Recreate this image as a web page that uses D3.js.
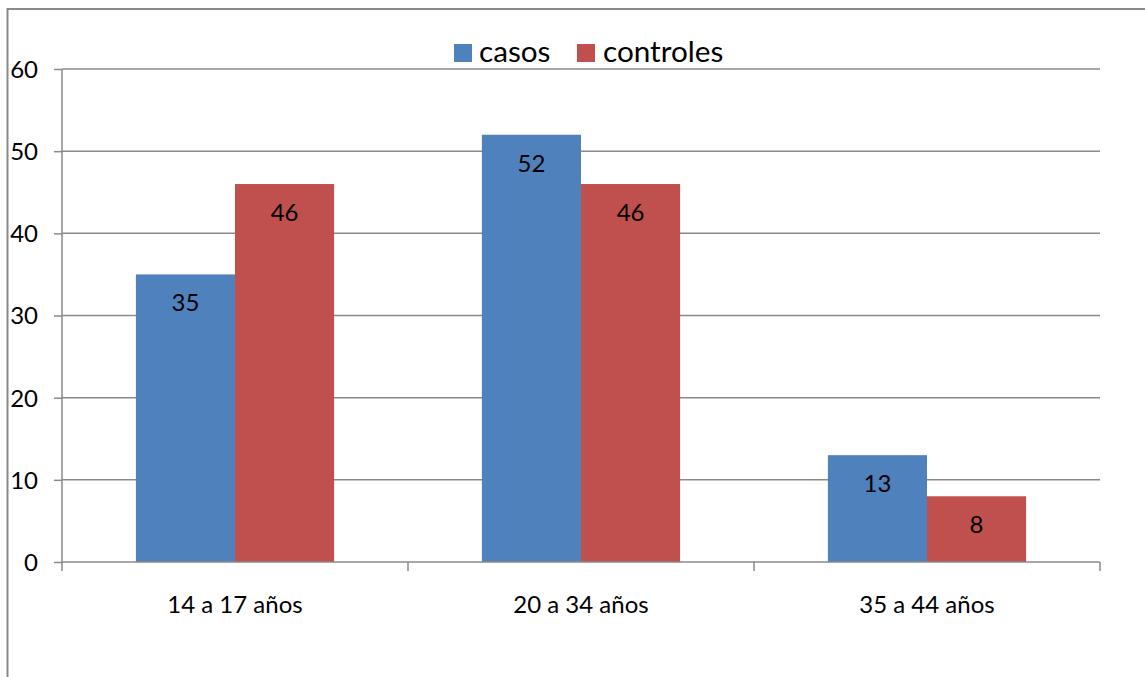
<!DOCTYPE html>
<html>
<head>
<meta charset="utf-8">
<script src="https://cdn.jsdelivr.net/npm/d3@7"></script>
<style>
  html, body { margin: 0; padding: 0; background: #fff; }
  svg { display: block; }
  text { font-family: Lato, "Open Sans", sans-serif; fill: #000; }
</style>
</head>
<body>
<svg id="chart" width="1145" height="677"></svg>
<script>
// Age groups and the two series compared in each group
const categories = ["14 a 17 años", "20 a 34 años", "35 a 44 años"];
const seriesNames = ["casos", "controles"];
const casos = [35, 52, 13];
const controles = [46, 46, 8];
const yTicks = [0, 10, 20, 30, 40, 50, 60];
const colors = ["#4F81BD", "#C0504D"];

const svg = d3.select("#chart");
const W = 1145, H = 677;
const plot = { left: 62, right: 1100, top: 69, bottom: 562 };
const gridColor = "#8a8a8a";

// Outer chart frame (runs off the right and bottom edges)
svg.append("rect")
  .attr("x", 7.5).attr("y", 9)
  .attr("width", W + 20).attr("height", H + 20)
  .attr("fill", "none")
  .attr("stroke", gridColor).attr("stroke-width", 2);

const x0 = d3.scaleBand().domain(categories)
  .range([plot.left, plot.right]).paddingInner(0).paddingOuter(0);
const x1 = d3.scaleBand().domain(seriesNames)
  .range([0, x0.bandwidth()]).paddingInner(0).paddingOuter(0.7455);
const y = d3.scaleLinear().domain([0, 60]).range([plot.bottom, plot.top]);

// Horizontal gridlines
svg.append("g").selectAll("line").data(yTicks.filter(t => t > 0)).join("line")
  .attr("x1", plot.left).attr("x2", plot.right)
  .attr("y1", d => y(d)).attr("y2", d => y(d))
  .attr("stroke", gridColor).attr("stroke-width", 1.5);

// Bars
const rows = categories.map((c, i) => ({ cat: c, vals: [casos[i], controles[i]] }));
const groups = svg.append("g").selectAll("g").data(rows).join("g")
  .attr("transform", d => `translate(${x0(d.cat)},0)`);

groups.selectAll("rect").data(d => d.vals.map((v, j) => ({ s: seriesNames[j], v, j })))
  .join("rect")
  .attr("x", d => x1(d.s))
  .attr("width", x1.bandwidth())
  .attr("y", d => y(d.v))
  .attr("height", d => y(0) - y(d.v))
  .attr("fill", d => colors[d.j]);

// Value labels inside the top of each bar
groups.selectAll("text.val").data(d => d.vals.map((v, j) => ({ s: seriesNames[j], v, j })))
  .join("text").attr("class", "val")
  .attr("x", d => x1(d.s) + x1.bandwidth() / 2)
  .attr("y", d => y(d.v) + 37)
  .attr("text-anchor", "middle")
  .attr("font-size", 24)
  .text(d => d.v);

// Y axis
const yAxis = d3.axisLeft(y).tickValues(yTicks).tickSize(8).tickPadding(16);
const gy = svg.append("g").attr("transform", `translate(${plot.left},0)`).call(yAxis);
gy.select(".domain").attr("stroke", gridColor).attr("stroke-width", 1.5)
  .attr("d", `M0,${plot.top}V${plot.bottom}`);
gy.selectAll(".tick line").attr("stroke", gridColor).attr("stroke-width", 1.5);
gy.selectAll(".tick text").attr("font-size", 24).attr("font-family", "Lato, sans-serif")
  .attr("fill", "#000").attr("dy", "0.35em");

// X axis with ticks between categories
const gx = svg.append("g").attr("transform", `translate(0,${plot.bottom})`)
  .call(d3.axisBottom(x0).tickSize(0).tickPadding(34));
gx.select(".domain").attr("stroke", gridColor).attr("stroke-width", 1.5)
  .attr("d", `M${plot.left},0H${plot.right}`);
gx.selectAll(".tick text").attr("font-size", 24).attr("font-family", "Lato, sans-serif")
  .attr("fill", "#000");
const bounds = categories.map(c => x0(c)).concat([plot.right]);
gx.append("g").selectAll("line").data(bounds).join("line")
  .attr("x1", d => d).attr("x2", d => d).attr("y1", 0).attr("y2", 9)
  .attr("stroke", gridColor).attr("stroke-width", 1.5);

// Legend
const legend = svg.append("g");
const legendItems = [
  { name: seriesNames[0], color: colors[0], sx: 454, tx: 479 },
  { name: seriesNames[1], color: colors[1], sx: 577, tx: 603 }
];
legend.selectAll("rect").data(legendItems).join("rect")
  .attr("x", d => d.sx).attr("y", 44).attr("width", 18).attr("height", 18)
  .attr("fill", d => d.color);
legend.selectAll("text").data(legendItems).join("text")
  .attr("x", d => d.tx).attr("y", 62)
  .attr("font-size", 29.7)
  .text(d => d.name);
</script>
</body>
</html>
